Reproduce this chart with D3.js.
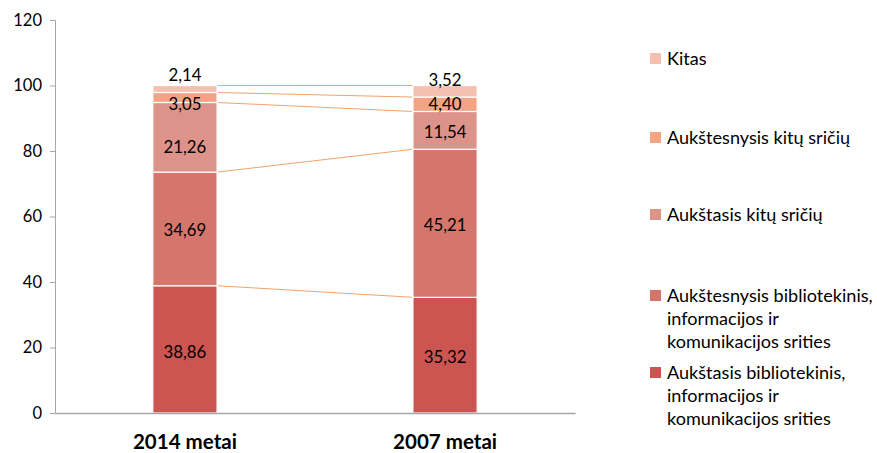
<!DOCTYPE html>
<html><head><meta charset="utf-8">
<script src="https://cdn.jsdelivr.net/npm/d3@7"></script>
<style>body{margin:0;background:#fff}svg{display:block}text{font-family:Lato,"Open Sans",sans-serif}</style>
</head><body>
<svg id="c" width="877" height="453"></svg>
<script>
const categories = ["2014 metai", "2007 metai"];
const seriesNames = [
  "Aukštasis bibliotekinis, informacijos ir komunikacijos srities",
  "Aukštesnysis bibliotekinis, informacijos ir komunikacijos srities",
  "Aukštasis kitų sričių",
  "Aukštesnysis kitų sričių",
  "Kitas"
];
const values2014 = [38.86, 34.69, 21.26, 3.05, 2.14];
const values2007 = [35.32, 45.21, 11.54, 4.40, 3.52];
const colors = ["#cc5551", "#d4766c", "#de938a", "#f2a485", "#f5c0b0"];
const yTicks = [0, 20, 40, 60, 80, 100, 120];
const legendLines = [
  ["Aukštasis bibliotekinis,", "informacijos ir", "komunikacijos srities"],
  ["Aukštesnysis bibliotekinis,", "informacijos ir", "komunikacijos srities"],
  ["Aukštasis kitų sričių"],
  ["Aukštesnysis kitų sričių"],
  ["Kitas"]
];

(function () {
const svg = d3.select("#c");
const mLeft = 55, mRight = 575, mTop = 20, mBottom = 413;
const x = d3.scaleBand().domain(categories).range([mLeft, mRight]).paddingInner(0.753).paddingOuter(0.376);
const y = d3.scaleLinear().domain([0, 120]).range([mBottom, mTop]);

function fitSize(str, weight, targetW) {
  const t = svg.append("text").attr("font-size", 20).attr("font-weight", weight).text(str);
  const w = t.node().getComputedTextLength();
  t.remove();
  return 20 * targetW / w;
}
const legendFont = (fitSize("Aukštesnysis kitų sričių", "normal", 184) + fitSize("Aukštesnysis bibliotekinis,", "normal", 205)) / 2;
const xFont = fitSize("2014 metai", "bold", 104);

const data = [values2014, values2007];
const stacks = data.map(vals => { let c = 0; return vals.map(v => { const s = c; c += v; return [s, c]; }); });

// series lines
for (let i = 0; i < seriesNames.length; i++) {
  svg.append("line")
    .attr("x1", x(categories[0]) + x.bandwidth()).attr("y1", y(stacks[0][i][1]))
    .attr("x2", x(categories[1])).attr("y2", y(stacks[1][i][1]))
    .attr("stroke", "#f4a36c").attr("stroke-width", 1);
}

// bars
const labelDy = [[3, 1, 10, 6, -14], [2, 2, 2, 0, -11]];
categories.forEach((cat, ci) => {
  stacks[ci].forEach((seg, si) => {
    svg.append("rect")
      .attr("x", x(cat)).attr("width", x.bandwidth())
      .attr("y", y(seg[1])).attr("height", y(seg[0]) - y(seg[1]))
      .attr("fill", colors[si]).attr("stroke", "#fff").attr("stroke-width", 1.2);
  });
  stacks[ci].forEach((seg, si) => {
    svg.append("text")
      .attr("x", x(cat) + x.bandwidth() / 2)
      .attr("y", y((seg[0] + seg[1]) / 2) + labelDy[ci][si])
      .attr("dy", "0.36em").attr("text-anchor", "middle")
      .attr("font-size", 16.8).attr("fill", "#000")
      .text(d3.format(".2f")(data[ci][si]).replace(".", ","));
  });
});

// axes
const yAxis = d3.axisLeft(y).tickValues(yTicks).tickSize(5).tickPadding(8);
const ga = svg.append("g").attr("transform", `translate(${mLeft},0)`).call(yAxis);
ga.select(".domain").attr("stroke", "#a6a6a6");
ga.selectAll(".tick line").attr("stroke", "#a6a6a6");
ga.selectAll(".tick text").attr("font-size", 16.5).attr("fill", "#000").style("font-family", "Lato,sans-serif");

const xAxis = d3.axisBottom(x).tickSize(0).tickPadding(0);
const gx = svg.append("g").attr("transform", `translate(0,${mBottom})`).call(xAxis);
gx.select(".domain").attr("stroke", "#a6a6a6").attr("stroke-width", 1.5);
gx.selectAll(".tick text").attr("y", 29).attr("dy", "0.36em").attr("font-size", xFont).attr("font-weight", "bold").attr("fill", "#000").style("font-family", "Lato,sans-serif");

// legend
const legendY = [372, 295, 214, 137, 58];
seriesNames.forEach((n, i) => {
  const g = svg.append("g");
  g.append("rect").attr("x", 650).attr("y", legendY[i] - 5).attr("width", 11).attr("height", 11).attr("fill", colors[i]);
  legendLines[i].forEach((ln, li) => {
    g.append("text").attr("x", 667).attr("y", legendY[i] + li * 23.3).attr("dy", "0.36em")
      .attr("font-size", legendFont).attr("fill", "#000").text(ln);
  });
});
})();
</script>
</body></html>
